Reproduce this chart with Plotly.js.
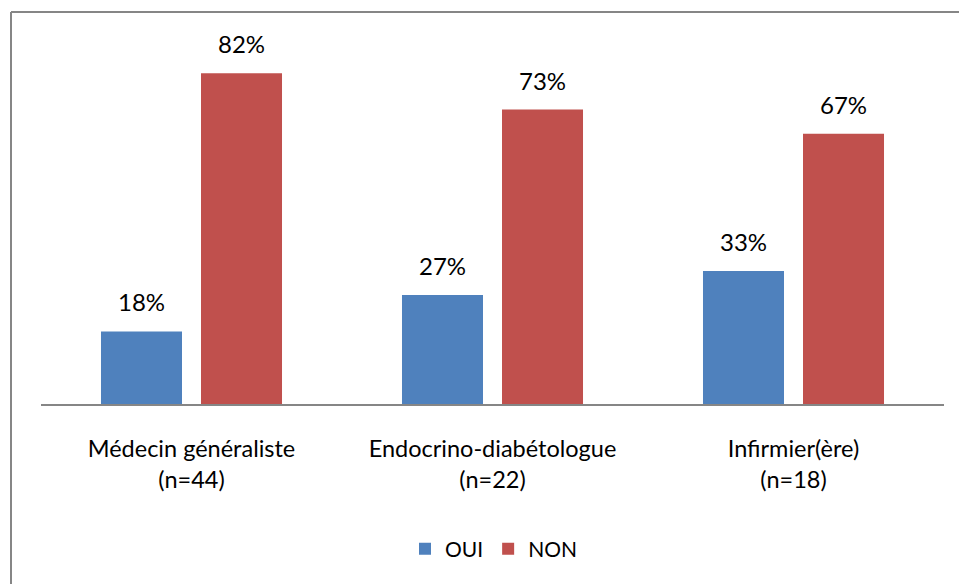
<!DOCTYPE html>
<html>
<head>
<meta charset="utf-8">
<script src="https://cdn.plot.ly/plotly-3.0.1.min.js"></script>
<style>html,body{margin:0;padding:0;background:#fff;}#chart{width:959px;height:584px;}</style>
</head>
<body>
<div id="chart"></div>
<script>
var categories = ["Médecin généraliste<br>(n=44)", "Endocrino-diabétologue<br>(n=22)", "Infirmier(ère)<br>(n=18)"];
var seriesNames = ["OUI", "NON"];
var ouiValues = [18, 27, 33];
var nonValues = [82, 73, 67];
var colors = ["#4F81BD", "#C0504D"];

var W = 959, H = 584;
var ml = 41, mr = 15, mt = 41, mb = 180;
var pw = W - ml - mr, ph = H - mt - mb;
function px(x){ return (x - ml) / pw; }
function py(y){ return (H - mb - y) / ph; }

var fontFam = "Lato, 'Open Sans', sans-serif";
var bargap = 0.3355, bargroupgap = 0.19;
var traces = [
  {type: "bar", name: seriesNames[0], x: categories, y: ouiValues, marker: {color: colors[0]}, hoverinfo: "none"},
  {type: "bar", name: seriesNames[1], x: categories, y: nonValues, marker: {color: colors[1]}, hoverinfo: "none"}
];

var slotPx = pw / categories.length * (1 - bargap) / 2;
var annotations = [];
[ouiValues, nonValues].forEach(function(vals, s){
  vals.forEach(function(v, i){
    annotations.push({
      x: categories[i], y: v, xref: "x", yref: "y",
      text: v + "%", showarrow: false,
      xshift: (s === 0 ? -1 : 1) * slotPx / 2,
      yanchor: "bottom", yshift: 13,
      font: {family: fontFam, size: 24, color: "#000"}
    });
  });
});

var layout = {
  width: W, height: H,
  margin: {l: ml, r: mr, t: mt, b: mb, pad: 0},
  paper_bgcolor: "#fff", plot_bgcolor: "#fff",
  barmode: "group", bargap: bargap, bargroupgap: bargroupgap,
  showlegend: true,
  legend: {orientation: "h", x: px(494), xanchor: "center", y: py(549), yanchor: "middle",
           font: {family: fontFam, size: 21, color: "#000"}, itemwidth: 30, traceorder: "normal"},
  xaxis: {showline: true, linecolor: "#868686", linewidth: 2, ticks: "", showgrid: false, zeroline: false,
          tickfont: {family: fontFam, size: 23.5, color: "#000"}, ticklabelstandoff: 23, fixedrange: true},
  yaxis: {range: [0, 90], visible: false, showgrid: false, zeroline: false, fixedrange: true},
  annotations: annotations,
  shapes: [
    {type: "line", xref: "paper", yref: "paper", x0: px(11), x1: px(11), y0: py(12), y1: py(700), line: {color: "#868686", width: 2}},
    {type: "line", xref: "paper", yref: "paper", x0: px(11), x1: px(1100), y0: py(12), y1: py(12), line: {color: "#868686", width: 2}}
  ],
  font: {family: fontFam, color: "#000"}
};

Plotly.newPlot("chart", traces, layout, {displayModeBar: false, staticPlot: true});
</script>
</body>
</html>
